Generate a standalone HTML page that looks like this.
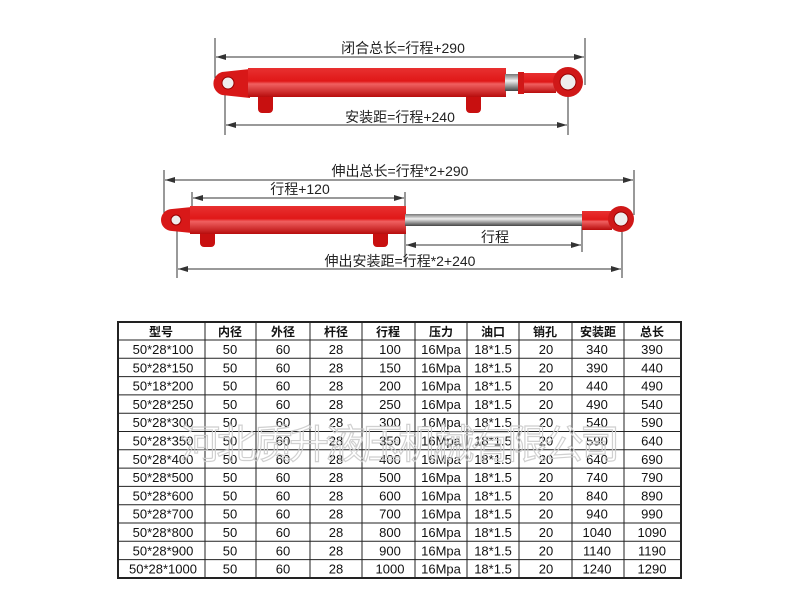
<!DOCTYPE html>
<html><head><meta charset="utf-8"><style>
html,body{margin:0;padding:0;background:#fff;width:800px;height:600px;overflow:hidden}
svg{display:block}
text{font-family:"Liberation Sans","Noto Sans CJK SC",sans-serif}
</style></head><body>
<svg width="800" height="600" viewBox="0 0 800 600" xmlns="http://www.w3.org/2000/svg">
<defs>
<marker id="a" viewBox="0 0 10 6" refX="10" refY="3" markerWidth="10" markerHeight="6" orient="auto-start-reverse"><path d="M0,0 L10,3 L0,6 Z" fill="#333"/></marker>
<linearGradient id="red" x1="0" y1="0" x2="0" y2="1"><stop offset="0" stop-color="#e83030"/><stop offset="0.45" stop-color="#e01818"/><stop offset="0.55" stop-color="#f06060"/><stop offset="1" stop-color="#b80c0c"/></linearGradient>
<linearGradient id="rod" x1="0" y1="0" x2="0" y2="1"><stop offset="0" stop-color="#777"/><stop offset="0.4" stop-color="#eee"/><stop offset="0.7" stop-color="#999"/><stop offset="1" stop-color="#444"/></linearGradient>
</defs>
<g stroke="#333" stroke-width="1" fill="none">
<line x1="215" y1="38" x2="215" y2="88"/><line x1="585" y1="38" x2="585" y2="85"/>
<line x1="216" y1="57" x2="584" y2="57" marker-start="url(#a)" marker-end="url(#a)"/>
<line x1="225" y1="85" x2="225" y2="135"/><line x1="568" y1="85" x2="568" y2="135"/>
<line x1="226" y1="125" x2="567" y2="125" marker-start="url(#a)" marker-end="url(#a)"/>
<line x1="164" y1="170" x2="164" y2="215"/><line x1="634" y1="170" x2="634" y2="215"/>
<line x1="165" y1="180" x2="633" y2="180" marker-start="url(#a)" marker-end="url(#a)"/>
<line x1="192" y1="192" x2="192" y2="210"/><line x1="405" y1="192" x2="405" y2="262"/>
<line x1="193" y1="198" x2="404" y2="198" marker-start="url(#a)" marker-end="url(#a)"/>
<line x1="582" y1="226" x2="582" y2="252"/>
<line x1="406" y1="245" x2="581" y2="245" marker-start="url(#a)" marker-end="url(#a)"/>
<line x1="177" y1="225" x2="177" y2="278"/><line x1="622" y1="225" x2="622" y2="278"/>
<line x1="178" y1="269" x2="621" y2="269" marker-start="url(#a)" marker-end="url(#a)"/>
</g>
<g font-size="14" fill="#222" text-anchor="middle">
<text x="403" y="53">闭合总长=行程+290</text>
<text x="400" y="122">安装距=行程+240</text>
<text x="400" y="176">伸出总长=行程*2+290</text>
<text x="300" y="194">行程+120</text>
<text x="495" y="242">行程</text>
<text x="400" y="266">伸出安装距=行程*2+240</text>
</g>
<g>
<path d="M222,72 L250,69 L250,98 L222,95 A12,12 0 0 1 222,72Z" fill="#d81818"/>
<circle cx="228" cy="83" r="6" fill="#eee" stroke="#900"/>
<rect x="258" y="90" width="15" height="23" rx="4" fill="#c81010"/>
<rect x="466" y="90" width="15" height="23" rx="4" fill="#c81010"/>
<rect x="248" y="68" width="258" height="29" fill="url(#red)"/>
<rect x="505" y="74" width="15" height="17" fill="url(#rod)"/>
<rect x="518" y="72" width="6" height="22" fill="#d01818"/>
<rect x="524" y="73" width="32" height="20" fill="url(#red)"/>
<circle cx="568" cy="82" r="15" fill="#d01818"/>
<circle cx="568" cy="82" r="8" fill="#eee" stroke="#900"/>
</g>
<g>
<path d="M172,209 L192,207 L192,233 L172,231 A11,11 0 0 1 172,209Z" fill="#d81818"/>
<circle cx="176" cy="220" r="5" fill="#eee" stroke="#900"/>
<rect x="200" y="228" width="15" height="19" rx="4" fill="#c81010"/>
<rect x="373" y="228" width="15" height="19" rx="4" fill="#c81010"/>
<rect x="190" y="206" width="216" height="28" fill="url(#red)"/>
<rect x="405" y="214" width="178" height="12" fill="url(#rod)"/>
<rect x="582" y="211" width="30" height="19" fill="url(#red)"/>
<circle cx="621" cy="219" r="13" fill="#d01818"/>
<circle cx="621" cy="219" r="7" fill="#eee" stroke="#900"/>
</g>
<g stroke="#222" fill="none">
<rect x="118" y="322" width="563" height="256" stroke-width="2"/>
<g stroke-width="1">
<line x1="118" y1="340" x2="681" y2="340"/>
<line x1="118" y1="358.3" x2="681" y2="358.3"/><line x1="118" y1="376.6" x2="681" y2="376.6"/>
<line x1="118" y1="394.9" x2="681" y2="394.9"/><line x1="118" y1="413.2" x2="681" y2="413.2"/>
<line x1="118" y1="431.5" x2="681" y2="431.5"/><line x1="118" y1="449.8" x2="681" y2="449.8"/>
<line x1="118" y1="468.1" x2="681" y2="468.1"/><line x1="118" y1="486.4" x2="681" y2="486.4"/>
<line x1="118" y1="504.7" x2="681" y2="504.7"/><line x1="118" y1="523" x2="681" y2="523"/>
<line x1="118" y1="541.3" x2="681" y2="541.3"/><line x1="118" y1="559.6" x2="681" y2="559.6"/>
<line x1="205" y1="322" x2="205" y2="578"/><line x1="256" y1="322" x2="256" y2="578"/>
<line x1="310" y1="322" x2="310" y2="578"/><line x1="362" y1="322" x2="362" y2="578"/>
<line x1="415" y1="322" x2="415" y2="578"/><line x1="467" y1="322" x2="467" y2="578"/>
<line x1="519" y1="322" x2="519" y2="578"/><line x1="572" y1="322" x2="572" y2="578"/>
<line x1="624" y1="322" x2="624" y2="578"/>
</g></g>
<g font-size="13" fill="#111" text-anchor="middle">
<g font-weight="bold" font-size="12">
<text x="161" y="336">型号</text><text x="230" y="336">内径</text><text x="283" y="336">外径</text><text x="336" y="336">杆径</text><text x="388" y="336">行程</text><text x="441" y="336">压力</text><text x="493" y="336">油口</text><text x="545" y="336">销孔</text><text x="598" y="336">安装距</text><text x="652" y="336">总长</text>
</g>
<text y="354"><tspan x="163">50*28*100</tspan><tspan x="230">50</tspan><tspan x="283">60</tspan><tspan x="336">28</tspan><tspan x="390">100</tspan><tspan x="441">16Mpa</tspan><tspan x="493">18*1.5</tspan><tspan x="546">20</tspan><tspan x="597">340</tspan><tspan x="652">390</tspan></text>
<text y="372.3"><tspan x="163">50*28*150</tspan><tspan x="230">50</tspan><tspan x="283">60</tspan><tspan x="336">28</tspan><tspan x="390">150</tspan><tspan x="441">16Mpa</tspan><tspan x="493">18*1.5</tspan><tspan x="546">20</tspan><tspan x="597">390</tspan><tspan x="652">440</tspan></text>
<text y="390.6"><tspan x="163">50*18*200</tspan><tspan x="230">50</tspan><tspan x="283">60</tspan><tspan x="336">28</tspan><tspan x="390">200</tspan><tspan x="441">16Mpa</tspan><tspan x="493">18*1.5</tspan><tspan x="546">20</tspan><tspan x="597">440</tspan><tspan x="652">490</tspan></text>
<text y="408.9"><tspan x="163">50*28*250</tspan><tspan x="230">50</tspan><tspan x="283">60</tspan><tspan x="336">28</tspan><tspan x="390">250</tspan><tspan x="441">16Mpa</tspan><tspan x="493">18*1.5</tspan><tspan x="546">20</tspan><tspan x="597">490</tspan><tspan x="652">540</tspan></text>
<text y="427.2"><tspan x="163">50*28*300</tspan><tspan x="230">50</tspan><tspan x="283">60</tspan><tspan x="336">28</tspan><tspan x="390">300</tspan><tspan x="441">16Mpa</tspan><tspan x="493">18*1.5</tspan><tspan x="546">20</tspan><tspan x="597">540</tspan><tspan x="652">590</tspan></text>
<text y="445.5"><tspan x="163">50*28*350</tspan><tspan x="230">50</tspan><tspan x="283">60</tspan><tspan x="336">28</tspan><tspan x="390">350</tspan><tspan x="441">16Mpa</tspan><tspan x="493">18*1.5</tspan><tspan x="546">20</tspan><tspan x="597">590</tspan><tspan x="652">640</tspan></text>
<text y="463.8"><tspan x="163">50*28*400</tspan><tspan x="230">50</tspan><tspan x="283">60</tspan><tspan x="336">28</tspan><tspan x="390">400</tspan><tspan x="441">16Mpa</tspan><tspan x="493">18*1.5</tspan><tspan x="546">20</tspan><tspan x="597">640</tspan><tspan x="652">690</tspan></text>
<text y="482.1"><tspan x="163">50*28*500</tspan><tspan x="230">50</tspan><tspan x="283">60</tspan><tspan x="336">28</tspan><tspan x="390">500</tspan><tspan x="441">16Mpa</tspan><tspan x="493">18*1.5</tspan><tspan x="546">20</tspan><tspan x="597">740</tspan><tspan x="652">790</tspan></text>
<text y="500.4"><tspan x="163">50*28*600</tspan><tspan x="230">50</tspan><tspan x="283">60</tspan><tspan x="336">28</tspan><tspan x="390">600</tspan><tspan x="441">16Mpa</tspan><tspan x="493">18*1.5</tspan><tspan x="546">20</tspan><tspan x="597">840</tspan><tspan x="652">890</tspan></text>
<text y="518.7"><tspan x="163">50*28*700</tspan><tspan x="230">50</tspan><tspan x="283">60</tspan><tspan x="336">28</tspan><tspan x="390">700</tspan><tspan x="441">16Mpa</tspan><tspan x="493">18*1.5</tspan><tspan x="546">20</tspan><tspan x="597">940</tspan><tspan x="652">990</tspan></text>
<text y="537"><tspan x="163">50*28*800</tspan><tspan x="230">50</tspan><tspan x="283">60</tspan><tspan x="336">28</tspan><tspan x="390">800</tspan><tspan x="441">16Mpa</tspan><tspan x="493">18*1.5</tspan><tspan x="546">20</tspan><tspan x="597">1040</tspan><tspan x="652">1090</tspan></text>
<text y="555.3"><tspan x="163">50*28*900</tspan><tspan x="230">50</tspan><tspan x="283">60</tspan><tspan x="336">28</tspan><tspan x="390">900</tspan><tspan x="441">16Mpa</tspan><tspan x="493">18*1.5</tspan><tspan x="546">20</tspan><tspan x="597">1140</tspan><tspan x="652">1190</tspan></text>
<text y="573.6"><tspan x="163">50*28*1000</tspan><tspan x="230">50</tspan><tspan x="283">60</tspan><tspan x="336">28</tspan><tspan x="390">1000</tspan><tspan x="441">16Mpa</tspan><tspan x="493">18*1.5</tspan><tspan x="546">20</tspan><tspan x="597">1240</tspan><tspan x="652">1290</tspan></text>
</g>
<text x="400" y="458" font-size="40" text-anchor="middle" fill="none" stroke="#ccc" stroke-width="1.2" opacity="0.9" textLength="440" font-family="Noto Sans CJK SC, sans-serif">河北质升液压机械有限公司</text>
</svg>
</body></html>
